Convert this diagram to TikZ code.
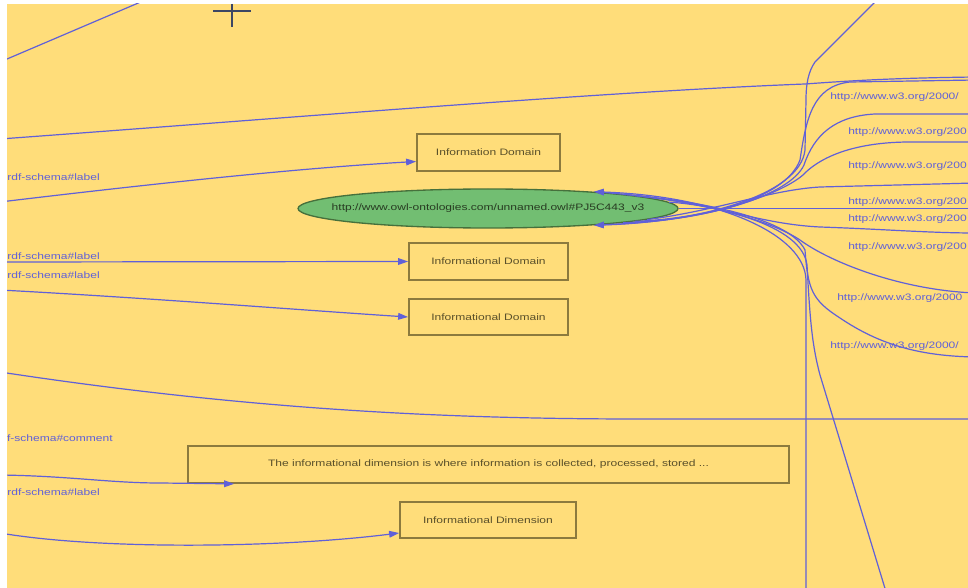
\documentclass[tikz,border=0pt]{standalone}
\usepackage{fontspec}
\setmainfont{Liberation Sans}
\usetikzlibrary{arrows.meta,shapes.geometric}

\definecolor{bgyellow}{RGB}{255,221,122}
\definecolor{linkblue}{RGB}{96,96,216}
\definecolor{boxline}{RGB}{140,122,62}
\definecolor{boxtext}{RGB}{90,80,42}
\definecolor{ovalfill}{RGB}{114,190,114}
\definecolor{ovalline}{RGB}{70,112,60}
\definecolor{ovaltext}{RGB}{40,60,34}
\definecolor{cursorcol}{RGB}{60,70,100}

% horizontally widened label text
\newcommand\wtxt[1]{\scalebox{1.29}[1]{#1}}

\begin{document}
\begin{tikzpicture}[x=0.75pt,y=-0.75pt,
  lnk/.style={draw=linkblue, line width=0.9pt},
  lnkarrow/.style={lnk, -{Triangle[length=7.5pt,width=5pt]}},
  classbox/.style={draw=boxline, line width=1.3pt, fill=bgyellow, text=boxtext,
    inner sep=0pt, font=\fontsize{7}{8}\selectfont},
  oval/.style={ellipse, draw=ovalline, line width=1pt, fill=ovalfill, text=ovaltext,
    inner xsep=-30pt, inner ysep=0pt, font=\fontsize{7}{8}\selectfont},
  predlabel/.style={text=linkblue, inner sep=0pt, font=\fontsize{7}{8}\selectfont},
  cross/.style={draw=cursorcol, line width=1.5pt}
]
\useasboundingbox (0,0) rectangle (968,588);
\fill[white] (0,0) rectangle (968,588);
\fill[bgyellow] (7,4) rectangle (968,588);

\begin{scope}
\clip (7,4) rectangle (968,588);

% free ends of connectors leaving the view
\coordinate (wA) at (0,202);
\coordinate (wB) at (0,139);
\coordinate (wC) at (0,62);
\coordinate (nC) at (150,-2);
\coordinate (wD) at (0,262);
\coordinate (wE) at (0,290);
\coordinate (wF) at (0,372);
\coordinate (eF) at (975,419);
\coordinate (wG) at (0,475);
\coordinate (wH) at (0,533);
\coordinate (eR0) at (975,77);
\coordinate (eR1) at (975,80);
\coordinate (eR2) at (975,114);
\coordinate (eR3) at (975,142);
\coordinate (eR4) at (975,183);
\coordinate (eR5) at (975,208.5);
\coordinate (eR6) at (975,233);
\coordinate (eR7) at (975,293);
\coordinate (eR8) at (975,357);
\coordinate (top1) at (879,-2);
\coordinate (bot1) at (806,595);
\coordinate (bot2) at (887,595);

% class boxes
\node[classbox, minimum width=107.25pt, minimum height=27.75pt] (domA) at (488.5,152.5) {\wtxt{Information Domain}};
\node[classbox, minimum width=119.25pt, minimum height=27.75pt] (domB) at (488.5,261.5) {\wtxt{Informational Domain}};
\node[classbox, minimum width=119.25pt, minimum height=27pt] (domC) at (488.5,317) {\wtxt{Informational Domain}};
\node[classbox, minimum width=450.75pt, minimum height=27.75pt] (desc) at (488.5,464.5) {\wtxt{The informational dimension is where information is collected, processed, stored ...}\hspace{22pt}};
\node[classbox, minimum width=132pt, minimum height=27pt] (dimD) at (488,520) {\wtxt{Informational Dimension}};

% left predicate labels
\node[predlabel, anchor=east] (pl1) at (100,177) {\wtxt{rdf-schema\#label}};
\node[predlabel, anchor=east] (pl2) at (100,256) {\wtxt{rdf-schema\#label}};
\node[predlabel, anchor=east] (pl3) at (100,275) {\wtxt{rdf-schema\#label}};
\node[predlabel, anchor=east] (pl4) at (113,438) {\wtxt{f-schema\#comment}};
\node[predlabel, anchor=east] (pl5) at (100,492) {\wtxt{rdf-schema\#label}};

% right predicate labels
\node[predlabel, anchor=west] (rl1) at (830,97) {\wtxt{http://www.w3.org/2000/}};
\node[predlabel, anchor=west] (rl2) at (848,132) {\wtxt{http://www.w3.org/200}};
\node[predlabel, anchor=west] (rl3) at (848,166) {\wtxt{http://www.w3.org/200}};
\node[predlabel, anchor=west] (rl4) at (848,202) {\wtxt{http://www.w3.org/200}};
\node[predlabel, anchor=west] (rl5) at (848,219) {\wtxt{http://www.w3.org/200}};
\node[predlabel, anchor=west] (rl6) at (848,247) {\wtxt{http://www.w3.org/200}};
\node[predlabel, anchor=west] (rl7) at (837,298) {\wtxt{http://www.w3.org/2000}};
\node[predlabel, anchor=west] (rl8) at (830,346) {\wtxt{http://www.w3.org/2000/}};

% connectors on the left
\draw[lnk] (wC) -- (nC);
\draw[lnk] (wB) .. controls (300,117) and (600,92) .. (805,84) .. controls (860,80) and (900,78) .. (eR0);
\draw[lnkarrow] (wA) .. controls (150,184) and (300,168) .. ([yshift=-6.75pt]domA.west);
\draw[lnkarrow] (wD) -- (domB.west);
\draw[lnkarrow] (wE) .. controls (150,298) and (300,310) .. (domC.west);
\draw[lnk] (wF) .. controls (250,410) and (450,419) .. (640,419) -- (eF);
\draw[lnkarrow] (wG) .. controls (70,476) and (110,483) .. (160,483) -- ([xshift=35.25pt]desc.south west);
\draw[lnkarrow] (wH) .. controls (100,550) and (280,548) .. ([yshift=-9.75pt]dimD.west);

% resource node
\node[oval, minimum width=285pt, minimum height=29.25pt] (res) at (488,208.5) {\wtxt{http://www.owl-ontologies.com/unnamed.owl\#PJ5C443\_v3}\hspace{18pt}};

% connectors on the right
\draw[lnk] (res.-8) .. controls (700,222) and (785,200) .. (800,160) .. controls (806,120) and (812,86) .. (850,82) -- (eR1);
\draw[lnk] (res.-6.5) .. controls (710,220) and (790,195) .. (804,165) .. controls (814,135) and (835,116) .. (875,114) -- (eR2);
\draw[lnk] (res.-5.2) .. controls (720,218) and (790,190) .. (806,172) .. controls (830,150) and (870,142) .. (910,142) -- (eR3);
\draw[lnk] (res.-4) .. controls (720,210) and (770,190) .. (820,187) -- (eR4);
\draw[lnk] (res.east) -- (eR5);
\draw[lnk] (res.2.76) .. controls (720,205) and (760,224) .. (820,227) .. controls (880,229) and (930,233) .. (eR6);
\draw[lnk] (res.8) .. controls (700,200) and (770,220) .. (800,240) .. controls (830,262) and (900,290) .. (eR7);
\draw[lnk] (res.6.5) .. controls (710,202) and (790,220) .. (805,250) .. controls (808,290) and (812,300) .. (840,318) .. controls (880,345) and (920,356) .. (eR8);
\draw[lnk] (res.5.2) .. controls (720,205) and (802,225) .. (807,265) .. controls (810,320) and (812,345) .. (820,375) -- (bot2);
\draw[lnkarrow] (bot1) -- (806,280) .. controls (805,235) and (720,196) .. (res.9.8);
\draw[lnkarrow] (top1) -- (815,62) .. controls (808,72) and (806,85) .. (806,100) -- (805,150) .. controls (800,195) and (700,222) .. (res.-9.8);

% pointer cross
\draw[cross] (213,11) -- (251,11);
\draw[cross] (232,4) -- (232,27);
\end{scope}
\end{tikzpicture}
\end{document}
